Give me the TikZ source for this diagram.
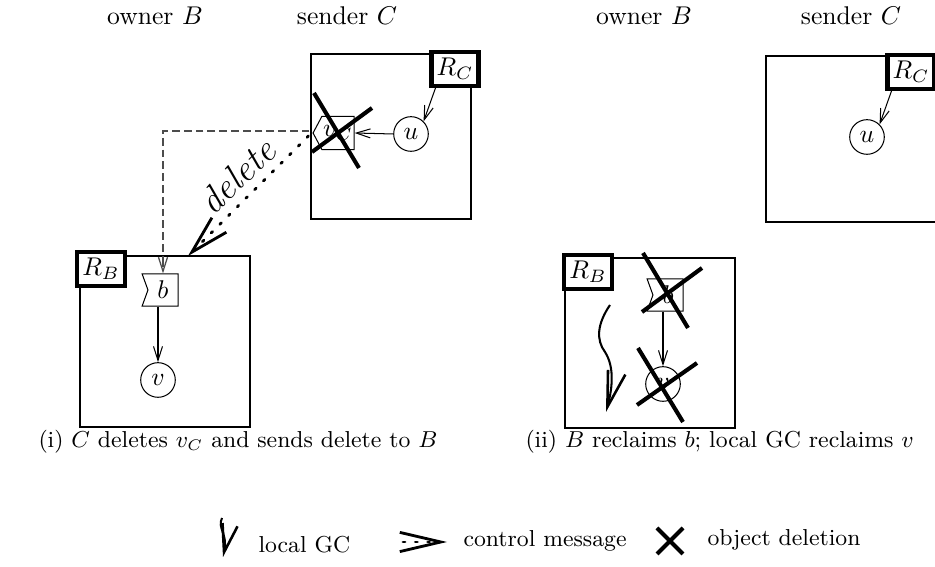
\documentclass[tikz,border=0pt]{standalone}
\usetikzlibrary{arrows.meta,shapes.symbols,calc}
\begin{document}
\begin{tikzpicture}[x=0.39pt,y=-0.39pt,
  box/.style={draw, line width=0.6pt},
  rlabel/.style={draw, line width=1.6pt, inner sep=2pt, minimum height=13pt, fill=white},
  obj/.style={draw, circle, inner sep=0pt, minimum size=13.5pt},
  flagin/.style={draw, signal, signal from=west, signal to=nowhere, signal pointer angle=140, minimum width=14pt, minimum height=12.5pt, inner sep=0pt, fill=white},
  flagout/.style={draw, signal, signal to=west, signal pointer angle=124, minimum width=16pt, minimum height=13pt, inner sep=0pt, fill=white},
  arr/.style={-{Straight Barb[length=5.5pt,width=3.5pt]}, line width=0.4pt},
  cross/.style={line width=1.6pt},
  dsh/.style={draw=black!70, line width=0.5pt, dash pattern=on 3pt off 1.6pt},
  ctrl/.style={line width=1.1pt, dash pattern=on 0.8pt off 4pt, line cap=round},
  ctrltip/.style={-{Straight Barb[length=15pt,width=8pt,line width=1.1pt]}},
  gc/.style={line width=0.8pt, -{Straight Barb[length=14pt,width=7pt,line width=1pt]}},
  hdr/.style={font=\normalsize},
  capt/.style={anchor=west, font=\small, inner sep=0pt},
  lgd/.style={anchor=west, font=\small, inner sep=0pt}
]
\clip (0,0) rectangle (935,567);

% headers
\node[hdr] (h1) at (155,16) {owner $B$};
\node[hdr] (h2) at (347,16) {sender $C$};
\node[hdr] (h3) at (644,16) {owner $B$};
\node[hdr] (h4) at (851,16) {sender $C$};

% ---------- panel (i) ----------
\draw[box] (80,256) rectangle (250,427);
\draw[box] (311,54) rectangle (471,219);
\node[rlabel] (rb) at (101,269) {$R_B$};
\node[rlabel] (rc) at (455,69) {$R_C$};
\node[obj] (u) at (411,134) {$u$};
\node[flagout] (vc) at (338,133) {$v_C$};
\node[flagin] (b) at (163,290) {$b$};
\node[obj] (v) at (158,380) {$v$};
\coordinate (dtip) at (188,256);

\draw[arr] ($(rc.south west)!0.12!(rc.south east)$) -- (u.north east);
\draw[arr] (u.west) -- (vc.east);
\draw[arr] (b.south -| v.north) -- (v.north);
\draw[dsh] ($(vc.west)+(-3,-2)$) -| ($(b.north)+(0,-14)$);
\draw[dsh, -{Straight Barb[length=5.5pt,width=3.5pt]}] ($(b.north)+(0,-14)$) -- (b.north);
\draw[ctrl, ctrltip] ($(vc.west)+(-4,3)$) -- (dtip);
\node[rotate=44, font=\Large\itshape] (del) at (237,176) {delete};
\draw[cross] ($(vc)+(-24,-40)$) -- ($(vc)+(21,35)$);
\draw[cross] ($(vc)+(34,-25)$) -- ($(vc)+(-26,19)$);

\node[capt] (cap1) at (38,442) {(i) $C$ deletes $v_C$ and sends delete to $B$};

% ---------- panel (ii) ----------
\draw[box] (565,258) rectangle (735,428);
\draw[box] (766,56) rectangle (980,222);
\node[rlabel] (rb2) at (588,272) {$R_B$};
\node[rlabel] (rc2) at (911,72) {$R_C$};
\node[obj] (u2) at (867,137) {$u$};
\node[flagin] (b2) at (668,295) {$b$};
\node[obj] (v2) at (663,384) {$v$};

\draw[arr] ($(rc2.south west)!0.12!(rc2.south east)$) -- (u2.north east);
\draw[arr] (b2.south -| v2.north) -- (v2.north);
\draw[cross] ($(b2)+(-25,-42)$) -- ($(b2)+(20,33)$);
\draw[cross] ($(b2)+(34,-27)$) -- ($(b2)+(-26,17)$);
\draw[cross] ($(v2)+(-25,-36)$) -- ($(v2)+(20,38)$);
\draw[cross] ($(v2)+(34,-21)$) -- ($(v2)+(-26,21)$);

\coordinate (g1) at (610,305);
\coordinate (g2) at (606,412);
\draw[gc] (g1) .. controls (597,324) and (596,340) .. (605,352) .. controls (614,366) and (613,386) .. (g2);

\node[capt] (cap2) at (525,442) {(ii) $B$ reclaims $b$; local GC reclaims $v$};

% ---------- legend ----------
\coordinate (lg1) at (222,518);
\coordinate (lg2) at (223,557);
\draw[gc, -{Straight Barb[length=11pt,width=6pt,line width=1pt]}] (lg1) .. controls (217,528) and (228,534) .. (lg2);
\node[lgd] (t1) at (258,545) {local GC};

\coordinate (lc1) at (403,542);
\coordinate (lc2) at (447,542);
\draw[ctrl, -{Straight Barb[length=16pt,width=7.5pt,line width=1.1pt]}] (lc1) -- (lc2);
\node[lgd] (t2) at (463,541) {control message};

\coordinate (x0) at (670,541);
\draw[cross] ($(x0)+(-13,-13)$) -- ($(x0)+(13,13)$);
\draw[cross] ($(x0)+(13,-13)$) -- ($(x0)+(-13,13)$);
\node[lgd] (t3) at (707,540) {object deletion};
\end{tikzpicture}
\end{document}
